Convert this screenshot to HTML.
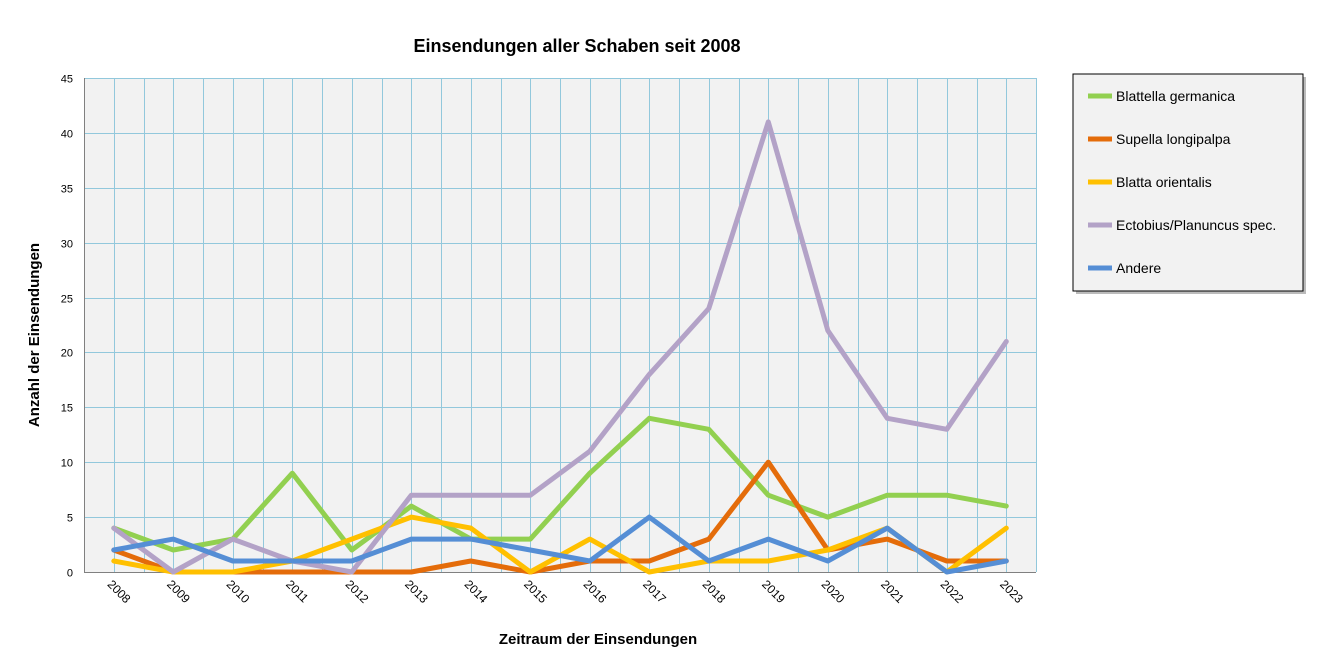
<!DOCTYPE html>
<html><head><meta charset="utf-8"><style>body{margin:0;background:#fff}svg{display:block}text{font-family:"Liberation Sans",sans-serif}</style></head><body>
<svg id="s" width="1330" height="661" xmlns="http://www.w3.org/2000/svg">
<text x="577" y="52" font-size="18" font-weight="bold" text-anchor="middle">Einsendungen aller Schaben seit 2008</text>
<rect x="84" y="78" width="952" height="494" fill="#f2f2f2"/>
<g id="grid" stroke="#92c8dc" stroke-width="1" shape-rendering="crispEdges"></g>
<line x1="84.5" y1="78" x2="84.5" y2="572" stroke="#808080" shape-rendering="crispEdges"/>
<line x1="84" y1="572.5" x2="1036" y2="572.5" stroke="#808080" shape-rendering="crispEdges"/>
<g id="yl" font-size="11" text-anchor="end"></g>
<g id="xl" font-size="12"></g>
<g id="series" fill="none" stroke-width="5" stroke-linejoin="round" stroke-linecap="round"></g>
<text transform="translate(39,335) rotate(-90)" font-size="15" font-weight="bold" text-anchor="middle">Anzahl der Einsendungen</text>
<text x="598" y="644" font-size="15" font-weight="bold" text-anchor="middle">Zeitraum der Einsendungen</text>
<rect x="1076" y="77" width="230" height="217" fill="#bbb"/>
<rect x="1073" y="74" width="230" height="217" fill="#f2f2f2" stroke="#000"/>
<g font-size="14">
<line x1="1088" y1="96" x2="1112" y2="96" stroke="#92d050" stroke-width="5"/><text x="1116" y="101">Blattella germanica</text>
<line x1="1088" y1="139" x2="1112" y2="139" stroke="#e46c0a" stroke-width="5"/><text x="1116" y="144">Supella longipalpa</text>
<line x1="1088" y1="182" x2="1112" y2="182" stroke="#ffc000" stroke-width="5"/><text x="1116" y="187">Blatta orientalis</text>
<line x1="1088" y1="225" x2="1112" y2="225" stroke="#b3a2c7" stroke-width="5"/><text x="1116" y="230">Ectobius/Planuncus spec.</text>
<line x1="1088" y1="268" x2="1112" y2="268" stroke="#558ed5" stroke-width="5"/><text x="1116" y="273">Andere</text>
</g>
</svg>
<script>
var ns="http://www.w3.org/2000/svg";function el(p,t,a,tx){var e=document.createElementNS(ns,t);for(var k in a)e.setAttribute(k,a[k]);if(tx!==undefined)e.textContent=String(tx);document.getElementById(p).appendChild(e);}
var L=84,T=78,B=572,W=952,st=W/16,ys=(B-T)/45;
for(var k=1;k<=32;k++){var x=Math.round(L+k*st/2)+0.5;el("grid","line",{x1:x,y1:T,x2:x,y2:B});}
for(var v=0;v<=45;v+=5){var y=Math.round(B-v*ys)+0.5;if(v>0)el("grid","line",{x1:L,y1:y,x2:L+W,y2:y});el("yl","text",{x:73,y:y+4},v);}
for(var i=0;i<16;i++){var x=L+st/2+i*st;el("xl","text",{transform:"translate("+(x-7)+","+(585)+") rotate(45)"},2008+i);}
var D=[["#92d050",[4,2,3,9,2,6,3,3,9,14,13,7,5,7,7,6]],["#e46c0a",[2,0,0,0,0,0,1,0,1,1,3,10,2,3,1,1]],["#ffc000",[1,0,0,1,3,5,4,0,3,0,1,1,2,4,0,4]],["#b3a2c7",[4,0,3,1,0,7,7,7,11,18,24,41,22,14,13,21]],["#558ed5",[2,3,1,1,1,3,3,2,1,5,1,3,1,4,0,1]]];
D.forEach(function(d){var p=d[1].map(function(v,i){return (L+st/2+i*st).toFixed(1)+","+(B-v*ys).toFixed(1)}).join(" ");el("series","polyline",{points:p,stroke:d[0]});});
</script>
</body></html>
